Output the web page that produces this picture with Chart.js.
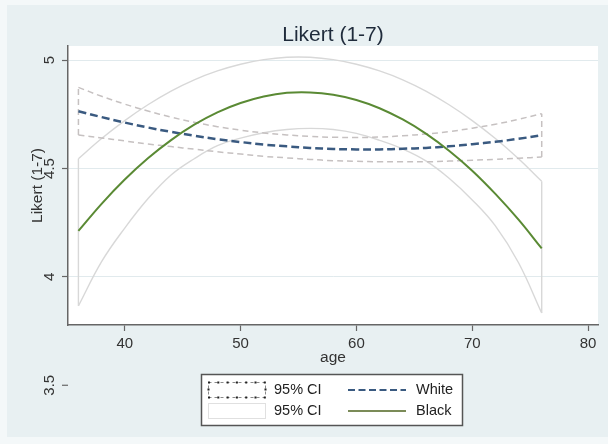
<!DOCTYPE html>
<html><head><meta charset="utf-8">
<script src="https://cdn.jsdelivr.net/npm/chart.js@4.4.1/dist/chart.umd.min.js"></script>
<style>html,body{margin:0;padding:0;background:#fff;}canvas{display:block;}</style>
</head><body>
<canvas id="c" width="608" height="444"></canvas>
<script>
// ---- data ----
const ages = [36,38,40,42,44,46,48,50,52,54,56,58,60,62,64,66,68,70,72,74,76];
const whiteMean  = [4.764,4.737,4.712,4.689,4.669,4.651,4.635,4.622,4.610,4.602,4.595,4.590,4.588,4.588,4.591,4.595,4.602,4.612,4.623,4.637,4.653];
const whiteUpper = [4.874,4.833,4.797,4.765,4.737,4.713,4.693,4.677,4.664,4.655,4.648,4.644,4.643,4.645,4.651,4.659,4.670,4.686,4.704,4.727,4.753];
const whiteLower = [4.654,4.641,4.627,4.613,4.601,4.589,4.577,4.567,4.556,4.549,4.542,4.536,4.533,4.531,4.531,4.531,4.534,4.538,4.542,4.547,4.553];
const blackMean  = [4.212,4.337,4.449,4.547,4.631,4.702,4.759,4.802,4.832,4.849,4.851,4.840,4.816,4.778,4.726,4.661,4.582,4.490,4.383,4.264,4.131];
const blackUpper = [4.545,4.638,4.721,4.794,4.857,4.909,4.950,4.981,5.002,5.013,5.013,5.002,4.981,4.950,4.909,4.857,4.794,4.721,4.638,4.545,4.441];
const blackLower = [3.866,4.070,4.225,4.360,4.470,4.545,4.605,4.640,4.665,4.680,4.685,4.680,4.662,4.630,4.590,4.535,4.455,4.355,4.235,4.065,3.833];
const xTicks = [40,50,60,70,80];
const yTicks = [4,4.5,5];
const yExtraTick = 3.5;
const chartTitle = 'Likert (1-7)';
const yTitle = 'Likert (1-7)';
const xTitle = 'age';
const legendLabels = ['95% CI','White','95% CI','Black'];

// ---- styles ----
const FONT = '"Liberation Sans", Arial, Helvetica, sans-serif';
const C_WHITE = '#3a5a80', C_BLACK = '#5a8a34', C_WCI = '#c6c1c1', C_BCI = '#d8d8d8';
const AX = '#666666', TXT = '#333333';

const pts = (ys) => ages.map((x,i)=>({x, y: ys[i]}));
const edge = (i, lo, hi) => [{x: ages[i], y: lo[i]}, {x: ages[i], y: hi[i]}];
const last = ages.length - 1;

function ds(data, color, width, dash, tension) {
  return {data, borderColor: color, borderWidth: width, borderDash: dash || [],
    pointRadius: 0, pointHoverRadius: 0, fill: false, tension: tension,
    borderCapStyle: 'butt', borderJoinStyle: 'round'};
}

const datasets = [
  ds(pts(blackMean), C_BLACK, 2, null, 0.4),
  ds(pts(whiteMean), C_WHITE, 2.5, [8,4], 0.4),
  ds(pts(whiteUpper), C_WCI, 1.5, [6,4], 0.4),
  ds(pts(whiteLower), C_WCI, 1.5, [6,4], 0.4),
  ds(edge(0, whiteLower, whiteUpper), C_WCI, 1.5, [6,4], 0),
  ds(edge(last, whiteLower, whiteUpper), C_WCI, 1.5, [6,4], 0),
  ds(pts(blackUpper), C_BCI, 1.4, null, 0.4),
  ds(pts(blackLower), C_BCI, 1.4, null, 0.4),
  ds(edge(0, blackLower, blackUpper), C_BCI, 1.4, null, 0),
  ds(edge(last, blackLower, blackUpper), C_BCI, 1.4, null, 0),
];

const bgPlugin = {
  id: 'bg',
  beforeDraw(chart) {
    const {ctx, chartArea: a, width, height} = chart;
    ctx.save();
    ctx.fillStyle = '#f4f8f9';
    ctx.fillRect(0, 0, width, height);
    ctx.fillStyle = '#e8f0f2';
    ctx.fillRect(7, 5, width - 7, 432);
    ctx.fillStyle = '#ffffff';
    ctx.fillRect(a.left, a.top, a.right - a.left, a.bottom - a.top);
    ctx.restore();
  }
};

const decoPlugin = {
  id: 'deco',
  afterDraw(chart) {
    const {ctx, chartArea: a} = chart;
    const ys = chart.scales.y;
    ctx.save();
    // title
    ctx.fillStyle = '#1f2b3b';
    ctx.font = '21px ' + FONT;
    ctx.textAlign = 'center';
    ctx.textBaseline = 'middle';
    ctx.fillText(chartTitle, (a.left + a.right) / 2, 35);
    // extra y tick (3.5) drawn below the plot region, as in the reference
    const py = ys.getPixelForValue(yExtraTick);
    ctx.strokeStyle = AX; ctx.lineWidth = 1.2;
    ctx.beginPath(); ctx.moveTo(a.left - 6, py); ctx.lineTo(a.left, py); ctx.stroke();
    ctx.save();
    ctx.translate(49.6, py);
    ctx.rotate(-Math.PI / 2);
    ctx.fillStyle = TXT;
    ctx.font = '15px ' + FONT;
    ctx.textAlign = 'center'; ctx.textBaseline = 'middle';
    ctx.fillText(String(yExtraTick), 0, 0);
    ctx.restore();

    // legend
    const bx = 201.5, by = 374.5, bw = 261, bh = 51;
    ctx.fillStyle = '#ffffff';
    ctx.fillRect(bx, by, bw, bh);
    ctx.strokeStyle = '#555'; ctx.lineWidth = 1.5;
    ctx.strokeRect(bx, by, bw, bh);
    const r1 = 390, r2 = 411;
    // swatch 1: dashed/dotted outline
    ctx.strokeStyle = '#8a8a8a'; ctx.lineWidth = 1; ctx.setLineDash([3,3]);
    ctx.strokeRect(208.5, 382.5, 57, 15);
    ctx.setLineDash([]);
    ctx.fillStyle = '#222';
    for (let x = 209; x <= 265; x += 9.3) {
      ctx.fillRect(x - 1, 381.5, 2, 2);
      ctx.fillRect(x - 1, 396.5, 2, 2);
    }
    ctx.fillRect(207.5, 388.5, 2, 2);
    ctx.fillRect(264.5, 388.5, 2, 2);
    // swatch 2: light area
    ctx.fillStyle = '#ffffff';
    ctx.fillRect(208.5, 403.5, 57, 15);
    ctx.strokeStyle = '#e0e0e0'; ctx.lineWidth = 1;
    ctx.strokeRect(208.5, 403.5, 57, 15);
    // line swatches
    ctx.lineWidth = 2; ctx.strokeStyle = C_WHITE; ctx.setLineDash([7,3.5]);
    ctx.beginPath(); ctx.moveTo(348, r1); ctx.lineTo(406, r1); ctx.stroke();
    ctx.setLineDash([]);
    ctx.strokeStyle = '#7b8b58';
    ctx.beginPath(); ctx.moveTo(348, r2); ctx.lineTo(406, r2); ctx.stroke();
    // labels
    ctx.fillStyle = '#222';
    ctx.font = '14.5px ' + FONT;
    ctx.textAlign = 'left'; ctx.textBaseline = 'middle';
    ctx.fillText(legendLabels[0], 274, r1);
    ctx.fillText(legendLabels[1], 416, r1);
    ctx.fillText(legendLabels[2], 274, r2);
    ctx.fillText(legendLabels[3], 416, r2);
    ctx.restore();
  }
};

Chart.defaults.font.family = FONT;

new Chart(document.getElementById('c'), {
  type: 'line',
  data: { datasets },
  options: {
    responsive: false,
    animation: false,
    devicePixelRatio: 1,
    layout: { padding: { left: 28, right: 10, top: 46, bottom: 77 } },
    plugins: { legend: { display: false }, title: { display: false }, tooltip: { enabled: false } },
    scales: {
      x: {
        type: 'linear', min: 35.1, max: 80.86,
        afterBuildTicks: s => { s.ticks = xTicks.map(v => ({value: v})); },
        afterFit: s => { s.height = 42; },
        grid: { drawOnChartArea: false, drawTicks: true, tickLength: 6, tickColor: AX, tickWidth: 1.2 },
        border: { color: AX, width: 1.5 },
        ticks: { font: { size: 15 }, color: TXT, padding: 4, maxRotation: 0, minRotation: 0, autoSkip: false,
                 callback: v => String(v) },
        title: { display: true, text: xTitle, font: { size: 15.5 }, color: TXT, padding: 0 }
      },
      y: {
        type: 'linear', min: 3.778, max: 5.065,
        afterBuildTicks: s => { s.ticks = yTicks.map(v => ({value: v})); },
        afterFit: s => { s.width = 40; },
        grid: { color: '#e1eaed', lineWidth: 1, drawTicks: true, tickLength: 6, tickColor: AX, tickWidth: 1.2 },
        border: { color: AX, width: 1.5 },
        ticks: { font: { size: 15 }, color: TXT, padding: 2, minRotation: 90, maxRotation: 90,
                 crossAlign: 'center', autoSkip: false, callback: v => String(v) },
        title: { display: true, text: yTitle, font: { size: 15.5 }, color: TXT, padding: 0 }
      }
    }
  },
  plugins: [bgPlugin, decoPlugin]
});
</script>
</body></html>
